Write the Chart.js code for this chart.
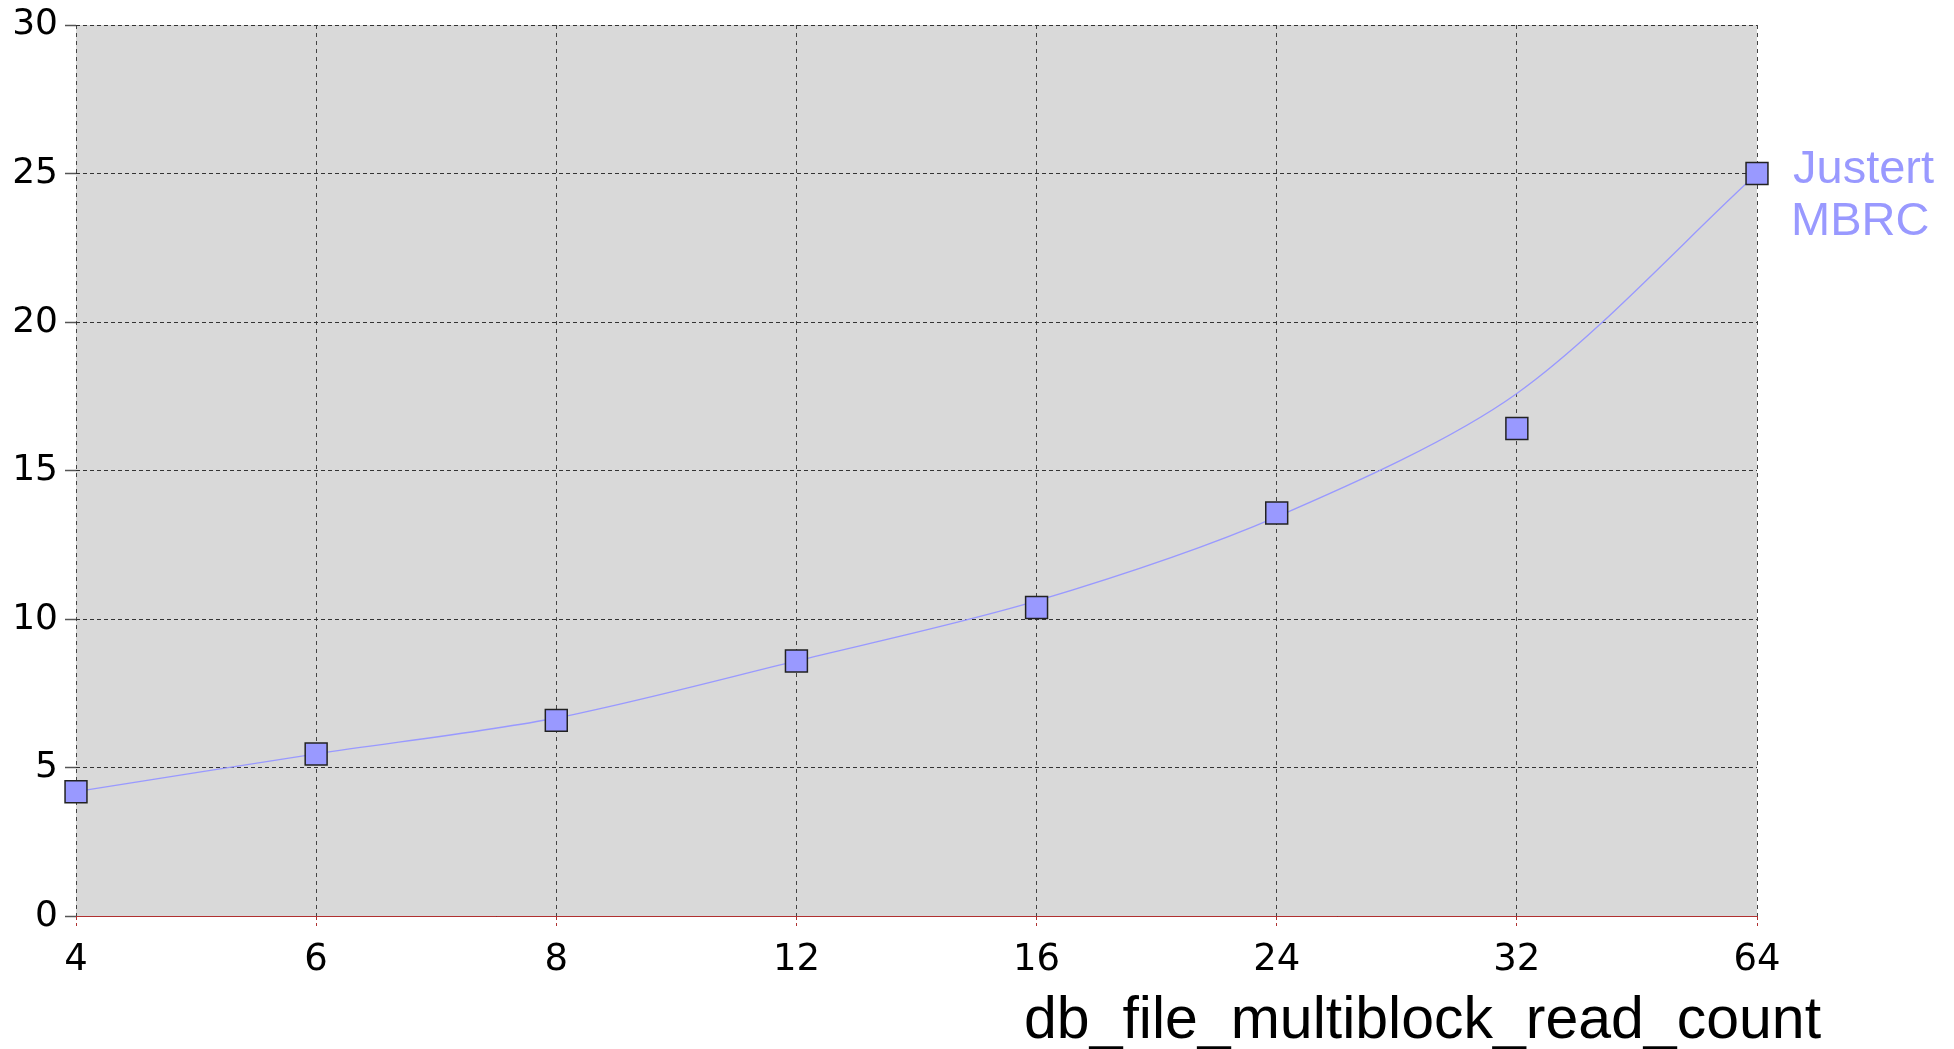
<!DOCTYPE html>
<html>
<head>
<meta charset="utf-8">
<script src="https://cdn.jsdelivr.net/npm/chart.js@4/dist/chart.umd.min.js"></script>
<style>
  html, body { margin: 0; padding: 0; background: #ffffff; }
  #wrap { width: 1954px; height: 1049px; }
</style>
</head>
<body>
<div id="wrap"><canvas id="mbrcChart" width="1954" height="1049"></canvas></div>
<script>
// values
var categories = ['4', '6', '8', '12', '16', '24', '32', '64'];
var mbrcValues = [4.2, 5.47, 6.6, 8.6, 10.4, 13.58, 16.42, 25.0];
var trendValues = [4.2, 5.47, 6.68, 8.6, 10.62, 13.45, 17.6, 25.0];
var yMin = 0, yMax = 30, yStep = 5;

var seriesLabel = ['Justert', 'MBRC'];
var xTitle = 'db_file_multiblock_read_count';

// grey plot background
var plotBackground = {
    id: 'plotBackground',
    beforeDraw: function(chart) {
        var a = chart.chartArea, ctx = chart.ctx;
        ctx.save();
        ctx.fillStyle = '#d9d9d9';
        ctx.fillRect(a.left, a.top, a.right - a.left, a.bottom - a.top);
        ctx.restore();
    }
};

// series name at the right and the axis title at the bottom
var sideTexts = {
    id: 'sideTexts',
    afterDraw: function(chart) {
        var a = chart.chartArea, ctx = chart.ctx;
        ctx.save();
        ctx.fillStyle = '#9999ff';
        ctx.font = '47px "Liberation Sans", Arial, sans-serif';
        ctx.textAlign = 'left';
        ctx.textBaseline = 'alphabetic';
        ctx.fillText(seriesLabel[0], a.right + 36, 183);
        ctx.fillText(seriesLabel[1], a.right + 34, 235);
        ctx.fillStyle = '#000000';
        ctx.font = '59px "Liberation Sans", Arial, sans-serif';
        ctx.fillText(xTitle, a.right - 733, a.bottom + 121);
        ctx.restore();
    }
};

var ctx = document.getElementById('mbrcChart').getContext('2d');
var mbrcChart = new Chart(ctx, {
    type: 'line',
    data: {
        labels: categories,
        datasets: [{
            label: 'Justert MBRC',
            data: mbrcValues,
            showLine: false,
            pointStyle: 'rect',
            pointRadius: 15.5,
            pointHoverRadius: 15.5,
            pointBackgroundColor: '#9999ff',
            pointBorderColor: '#222222',
            pointBorderWidth: 1.5,
            order: 0
        }, {
            label: 'trend',
            data: trendValues,
            borderColor: '#9999ff',
            borderWidth: 1.3,
            pointRadius: 0,
            fill: false,
            tension: 0.3,
            order: 1
        }]
    },
    options: {
        responsive: false,
        devicePixelRatio: 1,
        animation: false,
        events: [],
        layout: { padding: { top: 25, right: 197, left: 0, bottom: 0 } },
        plugins: {
            legend: { display: false },
            tooltip: { enabled: false },
            title: { display: false }
        },
        scales: {
            x: {
                offset: false,
                afterFit: function(scale) { scale.height = 132.5; },
                border: { display: true, color: '#b03030', dash: [4, 4], width: 1 },
                grid: {
                    color: '#444444',
                    lineWidth: 1,
                    tickLength: 11,
                    tickColor: '#b03030',
                    tickBorderDash: [3, 3],
                    tickWidth: 1
                },
                ticks: {
                    color: '#000000',
                    padding: 14,
                    maxRotation: 0,
                    font: { family: '"DejaVu Sans", sans-serif', size: 37, lineHeight: 1 }
                }
            },
            y: {
                min: yMin,
                max: yMax,
                afterFit: function(scale) { scale.width = 76; },
                border: { display: false, dash: [4, 3] },
                grid: {
                    color: '#333333',
                    lineWidth: 1,
                    tickLength: 11,
                    tickColor: '#555555',
                    tickBorderDash: [],
                    tickWidth: 1.5
                },
                ticks: {
                    stepSize: yStep,
                    color: '#000000',
                    padding: 7,
                    font: { family: '"DejaVu Sans", sans-serif', size: 36, lineHeight: 1 }
                }
            }
        }
    },
    plugins: [plotBackground, sideTexts]
});
</script>
</body>
</html>
